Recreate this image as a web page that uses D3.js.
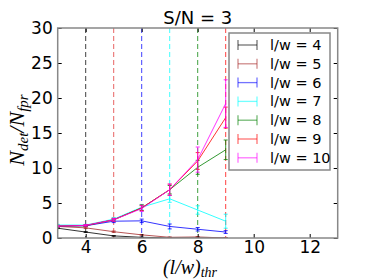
<!DOCTYPE html>
<html>
<head>
<meta charset="utf-8">
<script src="https://cdn.jsdelivr.net/npm/d3@7"></script>
<style>
  body { margin: 0; background: #fff; }
  svg { display: block; }
  .tick text { font-family: "DejaVu Sans", sans-serif; font-size: 17px; fill: #000; }
</style>
</head>
<body>
<div id="chart"></div>
<script>
// threshold values on the x axis
const thresholds = [3, 4, 5, 6, 7, 8, 9];
const lwLabels = ["l/w = 4", "l/w = 5", "l/w = 6", "l/w = 7", "l/w = 8", "l/w = 9", "l/w = 10"];
const lwColors = ["#000000", "#a52a2a", "#0000ff", "#00ffff", "#008000", "#ff0000", "#ff00ff"];
const vlinePositions = [4, 5, 6, 7, 8, 9];
const vlineColors = ["#000000", "#e03030", "#0000ff", "#00ffff", "#008000", "#ff0000"];

// N_det / N_fpr for each l/w
const ratio4 = [1.4, 0.85, 0.3, 0.1, 0.02, 0.0, 0.0];
const ratio5 = [1.65, 1.45, 0.9, 0.45, 0.1, 0.15, 0.0];
const ratio6 = [1.7, 1.75, 2.4, 2.45, 1.65, 1.25, 0.85];
const ratio7 = [1.85, 1.85, 2.7, 4.4, 5.6, 4.0, 2.4];
const ratio8 = [1.7, 1.75, 2.6, 4.3, 6.9, 10.1, 12.6];
const ratio9 = [1.7, 1.8, 2.6, 4.3, 6.9, 11.0, 17.2];
const ratio10 = [1.7, 1.8, 2.6, 4.2, 6.9, 11.2, 19.2];

// error bars (half width)
const err4 = [0.05, 0.05, 0.05, 0.03, 0.02, 0.0, 0.0];
const err5 = [0.1, 0.1, 0.1, 0.05, 0.05, 0.05, 0.0];
const err6 = [0.1, 0.1, 0.2, 0.25, 0.35, 0.25, 0.2];
const err7 = [0.1, 0.1, 0.2, 0.4, 0.5, 0.6, 1.0];
const err8 = [0.1, 0.1, 0.2, 0.4, 0.6, 1.0, 1.4];
const err9 = [0.1, 0.1, 0.2, 0.4, 0.8, 1.2, 1.5];
const err10 = [0.1, 0.1, 0.2, 0.4, 0.8, 1.8, 3.4];

const allRatios = [ratio4, ratio5, ratio6, ratio7, ratio8, ratio9, ratio10];
const allErrs = [err4, err5, err6, err7, err8, err9, err10];

const xTicks = [4, 6, 8, 10, 12];
const yTicks = [0, 5, 10, 15, 20, 25, 30];

const svgWidth = 374;
const svgHeight = 280;
const margin = { top: 28, right: 36.3, bottom: 42, left: 57.7 };
const width = svgWidth - margin.left - margin.right;
const height = svgHeight - margin.top - margin.bottom;

const svg = d3.select("#chart")
  .append("svg")
  .attr("width", svgWidth)
  .attr("height", svgHeight);

const chartGroup = svg.append("g")
  .attr("transform", `translate(${margin.left}, ${margin.top})`);

const x = d3.scaleLinear().domain([3, 13]).range([0, width]);
const y = d3.scaleLinear().domain([0, 30]).range([height, 0]);

chartGroup.append("defs").append("clipPath").attr("id", "clip")
  .append("rect").attr("width", width).attr("height", height);

// dashed threshold lines
chartGroup.selectAll(".vline")
  .data(vlinePositions)
  .enter()
  .append("line")
  .attr("x1", d => x(d))
  .attr("x2", d => x(d))
  .attr("y1", 0)
  .attr("y2", height)
  .attr("stroke", (d, i) => vlineColors[i])
  .attr("stroke-opacity", 0.75)
  .attr("stroke-width", 1)
  .attr("stroke-dasharray", "5,3");

const line = d3.line()
  .x((d, i) => x(thresholds[i]))
  .y(d => y(d));

const plot = chartGroup.append("g").attr("clip-path", "url(#clip)");

allRatios.forEach((vals, k) => {
  const g = plot.append("g")
    .attr("stroke", lwColors[k])
    .attr("stroke-opacity", 0.8)
    .attr("fill", "none");
  g.append("path")
    .attr("d", line(vals))
    .attr("stroke-width", 1);
  vals.forEach((v, i) => {
    const e = allErrs[k][i];
    const cx = x(thresholds[i]);
    g.append("line")
      .attr("x1", cx).attr("x2", cx)
      .attr("y1", y(v - e)).attr("y2", y(v + e))
      .attr("stroke-width", 1);
    [v - e, v + e].forEach(c => {
      g.append("line")
        .attr("x1", cx - 2).attr("x2", cx + 2)
        .attr("y1", y(c)).attr("y2", y(c))
        .attr("stroke-width", 1);
    });
  });
});

// axes with inward ticks on all sides
const bottomAxis = d3.axisBottom(x).tickValues(xTicks).tickSize(-4).tickPadding(3).tickFormat(d3.format("d"));
const leftAxis = d3.axisLeft(y).tickValues(yTicks).tickSize(-4).tickPadding(5).tickFormat(d3.format("d"));
const topAxis = d3.axisTop(x).tickValues(xTicks).tickSize(-4).tickFormat("");
const rightAxis = d3.axisRight(y).tickValues(yTicks).tickSize(-4).tickFormat("");

[
  chartGroup.append("g").attr("transform", `translate(0, ${height})`).call(bottomAxis),
  chartGroup.append("g").call(leftAxis),
  chartGroup.append("g").call(topAxis),
  chartGroup.append("g").attr("transform", `translate(${width}, 0)`).call(rightAxis)
].forEach(a => {
  a.select(".domain").remove();
  a.selectAll(".tick line").attr("stroke", "#000");
});

chartGroup.append("rect")
  .attr("width", width)
  .attr("height", height)
  .attr("fill", "none")
  .attr("stroke", "#888")
  .attr("stroke-width", 1.5);

// legend
const legend = chartGroup.append("g")
  .attr("transform", `translate(${229 - margin.left}, ${33 - margin.top})`);

legend.append("rect")
  .attr("width", 101)
  .attr("height", 137)
  .attr("fill", "#fff")
  .attr("stroke", "#888")
  .attr("stroke-width", 1.5);

lwLabels.forEach((label, i) => {
  const ly = 12 + i * 18.8;
  const g = legend.append("g")
    .attr("stroke", lwColors[i])
    .attr("stroke-opacity", 0.55)
    .attr("stroke-width", 1.3);
  g.append("line").attr("x1", 9).attr("x2", 28).attr("y1", ly).attr("y2", ly);
  g.append("line").attr("x1", 9).attr("x2", 9).attr("y1", ly - 5).attr("y2", ly + 5);
  g.append("line").attr("x1", 28).attr("x2", 28).attr("y1", ly - 5).attr("y2", ly + 5);
  legend.append("text")
    .attr("x", 41)
    .attr("y", ly + 5)
    .style("font-family", "DejaVu Sans, sans-serif")
    .style("font-size", "14.5px")
    .text(label);
});

// title
svg.append("text")
  .attr("x", margin.left + width / 2)
  .attr("y", 24)
  .style("text-anchor", "middle")
  .style("font-family", "DejaVu Sans, sans-serif")
  .style("font-size", "18px")
  .text("S/N = 3");

// y label
const yl = svg.append("text")
  .attr("transform", `translate(24, 130) rotate(-90)`)
  .style("text-anchor", "middle")
  .style("font-family", "Liberation Serif, serif")
  .style("font-style", "italic")
  .style("font-size", "22px");
yl.append("tspan").text("N");
yl.append("tspan").attr("dy", 4).style("font-size", "15px").text("det");
yl.append("tspan").attr("dy", -4).text("/N");
yl.append("tspan").attr("dy", 4).style("font-size", "15px").text("fpr");

// x label
const xl = svg.append("text")
  .attr("x", 190)
  .attr("y", 274)
  .style("text-anchor", "middle")
  .style("font-family", "Liberation Serif, serif")
  .style("font-style", "italic")
  .style("font-size", "20px");
xl.append("tspan").text("(l/w)");
xl.append("tspan").attr("dy", 3).style("font-size", "14px").text("thr");
</script>
</body>
</html>
